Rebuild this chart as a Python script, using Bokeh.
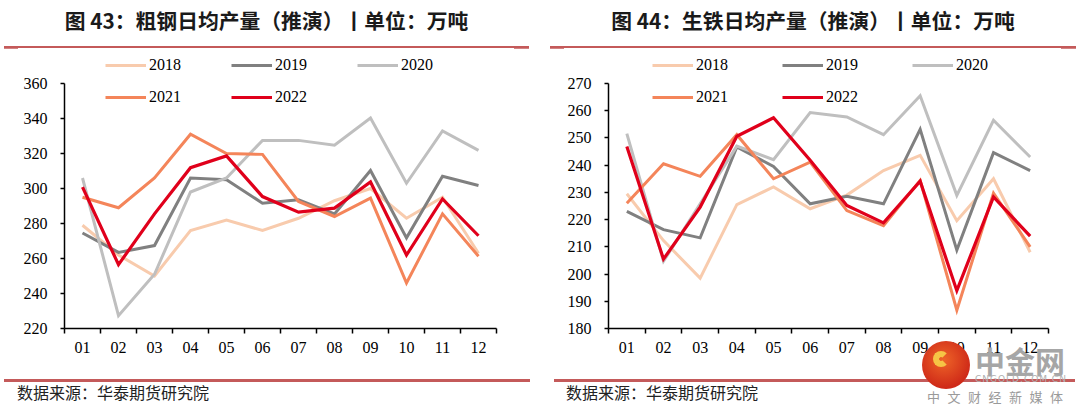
from bokeh.plotting import figure
from bokeh.models import Legend, LegendItem, FixedTicker, Div, Range1d
from bokeh.layouts import row, column
from bokeh.embed import file_html
from bokeh.resources import INLINE

# ---------------- data ----------------
months = ["01", "02", "03", "04", "05", "06", "07", "08", "09", "10", "11", "12"]
years = ["2018", "2019", "2020", "2021", "2022"]

steel_2018 = [279, 262, 250, 276, 282, 276, 283, 293, 300, 283, 295, 263]
steel_2019 = [274.6, 263.5, 267.4, 306, 305, 291.6, 293.5, 285.5, 310.3, 271.8, 307, 301.7]
steel_2020 = [306, 227.3, 251, 298, 306, 327.5, 327.5, 324.7, 340.3, 303, 332.9, 321.8]
steel_2021 = [295, 289, 306, 331, 320, 319.5, 292.6, 284, 294.5, 246, 285.5, 261.3]
steel_2022 = [300.8, 256.5, 285.5, 311.9, 318.6, 295.4, 286.5, 288.8, 303.7, 262, 294, 273]
steel_ticks = [220, 240, 260, 280, 300, 320, 340, 360]

iron_2018 = [229.5, 212.3, 198.5, 225.5, 232, 224, 229, 238, 243.6, 219.6, 235, 208]
iron_2019 = [223, 216.3, 213.3, 246.7, 239.5, 225.8, 228.6, 225.8, 253.2, 208.8, 244.6, 238]
iron_2020 = [251.6, 204.7, 225.8, 247, 242, 259.3, 257.7, 251.2, 265.5, 228.9, 256.5, 243]
iron_2021 = [226, 240.5, 235.9, 251.2, 235, 241.1, 223.3, 217.8, 234.4, 186.7, 229.7, 210]
iron_2022 = [246.9, 205.5, 224.6, 250.6, 257.4, 241.8, 225.2, 218.8, 234.1, 193.9, 228.3, 213.9]
iron_ticks = [180, 190, 200, 210, 220, 230, 240, 250, 260, 270]

title_left = "图 43：粗钢日均产量（推演）丨单位：万吨"
title_right = "图 44：生铁日均产量（推演）丨单位：万吨"
source_text = "数据来源：华泰期货研究院"

# ---------------- styles ----------------
colors = ["#F8CBAD", "#808080", "#BFBFBF", "#F4855A", "#E0001B"]
widths = [3, 3, 3, 3, 3.2]
RED = "#C45A5A"
NUM_FONT = "Liberation Serif"
CJK = "Noto Sans CJK SC"

x_idx = list(range(1, len(months) + 1))

AXIS_H = 245      # pixel height of the value axis
HEADROOM = 28     # space above the axis top kept inside the frame for the legend


def make_fig(series, ticks, frame_w, left_b, right_b, leg_x, leg_sp):
    lo, hi = ticks[0], ticks[-1]
    top = hi + HEADROOM * (hi - lo) / AXIS_H
    p = figure(frame_width=frame_w, frame_height=AXIS_H + HEADROOM,
               min_border_left=left_b, min_border_right=right_b,
               min_border_top=7, min_border_bottom=51,
               x_range=Range1d(0.5, len(months) + 0.5),
               y_range=Range1d(lo, top),
               output_backend="svg", toolbar_location=None)
    p.outline_line_color = None
    p.xgrid.visible = False
    p.ygrid.visible = False
    p.background_fill_color = "white"
    p.border_fill_color = "white"

    rs = []
    for vals, c, w in zip(series, colors, widths):
        rs.append(p.line(x_idx, vals, line_color=c, line_width=w,
                         line_join="miter"))

    # x axis: labels at months, ticks at boundaries
    xa = p.xaxis[0]
    xa.ticker = FixedTicker(ticks=x_idx,
                            minor_ticks=[i + 0.5 for i in range(len(months) + 1)])
    xa.major_label_overrides = {i: m for i, m in zip(x_idx, months)}
    xa.major_tick_out = 0
    xa.major_tick_in = 0
    xa.minor_tick_out = 5
    xa.minor_tick_in = 0
    xa.minor_tick_line_color = "black"
    xa.minor_tick_line_width = 1.5
    xa.axis_line_color = "black"
    xa.axis_line_width = 1.5
    xa.major_label_text_font = NUM_FONT
    xa.major_label_text_font_size = "16px"
    xa.major_label_text_color = "black"
    xa.major_label_standoff = 8

    ya = p.yaxis[0]
    ya.ticker = FixedTicker(ticks=ticks)
    ya.bounds = (lo, hi)
    ya.major_tick_out = 4
    ya.major_tick_in = 0
    ya.major_tick_line_color = "black"
    ya.major_tick_line_width = 1.5
    ya.minor_tick_line_color = None
    ya.axis_line_color = "black"
    ya.axis_line_width = 1.5
    ya.major_label_text_font = NUM_FONT
    ya.major_label_text_font_size = "16px"
    ya.major_label_text_color = "black"
    ya.major_label_standoff = 13

    common = dict(orientation="horizontal", spacing=leg_sp, glyph_width=41,
                  glyph_height=16, label_height=16, label_standoff=3,
                  label_text_font=NUM_FONT, label_text_font_size="16px",
                  label_text_color="black", padding=0, margin=0,
                  border_line_color=None, background_fill_alpha=0)
    leg1 = Legend(items=[LegendItem(label=years[i], renderers=[rs[i]]) for i in range(3)],
                  location=(leg_x, 254), **common)
    leg2 = Legend(items=[LegendItem(label=years[i], renderers=[rs[i]]) for i in range(3, 5)],
                  location=(leg_x, 222), **common)
    p.add_layout(leg1)
    p.add_layout(leg2)
    return p


def title_div(text, offset, line_w):
    ends = (f'<div style="position:absolute;left:0;top:46px;width:14px;height:3px;'
            f'background:{RED};"></div>'
            f'<div style="position:absolute;left:{line_w - 15}px;top:46px;width:15px;height:3px;'
            f'background:{RED};"></div>')
    html = (f'<div style="position:relative;box-sizing:border-box;margin-left:{offset}px;'
            f'width:{line_w}px;height:48px;'
            f'padding-top:7px;border-bottom:2px solid {RED};text-align:center;'
            f'font-family:\'{CJK}\';font-weight:bold;font-size:20.8px;'
            f'line-height:26px;color:#1a1a1a;white-space:nowrap;">{text}{ends}</div>')
    return Div(text=html, width=540, height=48, margin=0,
               styles={"overflow": "visible"})


def footer_div(offset, line_w, text_off, text, extra=""):
    html = (f'<div style="position:relative;margin-left:{offset}px;width:{line_w}px;'
            f'height:30px;border-top:3px solid {RED};'
            f'font-family:\'{CJK}\';font-size:16px;line-height:20px;color:#222;'
            f'padding-left:{text_off}px;box-sizing:border-box;white-space:nowrap;">{text}{extra}</div>')
    return Div(text=html, width=540, height=34, margin=0,
               styles={"overflow": "visible", "z-index": "5"})


left_fig = make_fig([steel_2018, steel_2019, steel_2020, steel_2021, steel_2022],
                    steel_ticks, 432, 64, 44, 41, 50)
right_fig = make_fig([iron_2018, iron_2019, iron_2020, iron_2021, iron_2022],
                     iron_ticks, 440, 68, 32, 44, 54)

watermark = (
    '<div style="position:absolute;left:368px;top:-41px;width:48px;height:48px;'
    'border-radius:50%;background:radial-gradient(circle at 45% 40%, #EE6428, #CF2A18 70%);'
    'z-index:10;">'
    '<div style="position:absolute;left:11px;top:10px;width:16px;height:16px;'
    'border:6px solid #F6C445;border-right-color:transparent;border-radius:50%;"></div></div>'
    '<div style="position:absolute;left:421px;top:-37px;font-family:\'Noto Sans CJK SC\';'
    'font-weight:bold;font-size:30px;line-height:30px;color:#A6A6A6;z-index:10;">中金网</div>'
    '<div style="position:absolute;left:421px;top:-8px;font-family:\'DejaVu Sans\';'
    'font-size:9px;line-height:10px;letter-spacing:1px;color:#B0B0B0;z-index:10;">CNGOLD.COM.CN</div>'
    '<div style="position:absolute;left:373px;top:7px;font-family:\'Noto Sans CJK SC\';'
    'font-size:13px;line-height:16px;letter-spacing:7.5px;color:#9A9A9A;z-index:10;">中文财经新媒体</div>'
)

left_col = column(title_div(title_left, 4, 525), left_fig,
                  footer_div(4, 526, 13, source_text), spacing=0)
right_col = column(title_div(title_right, 10, 526), right_fig,
                   footer_div(14, 521, 12, source_text, watermark), spacing=0)
layout = row(left_col, right_col, spacing=0)

open("out.html", "w").write(file_html(layout, INLINE))
